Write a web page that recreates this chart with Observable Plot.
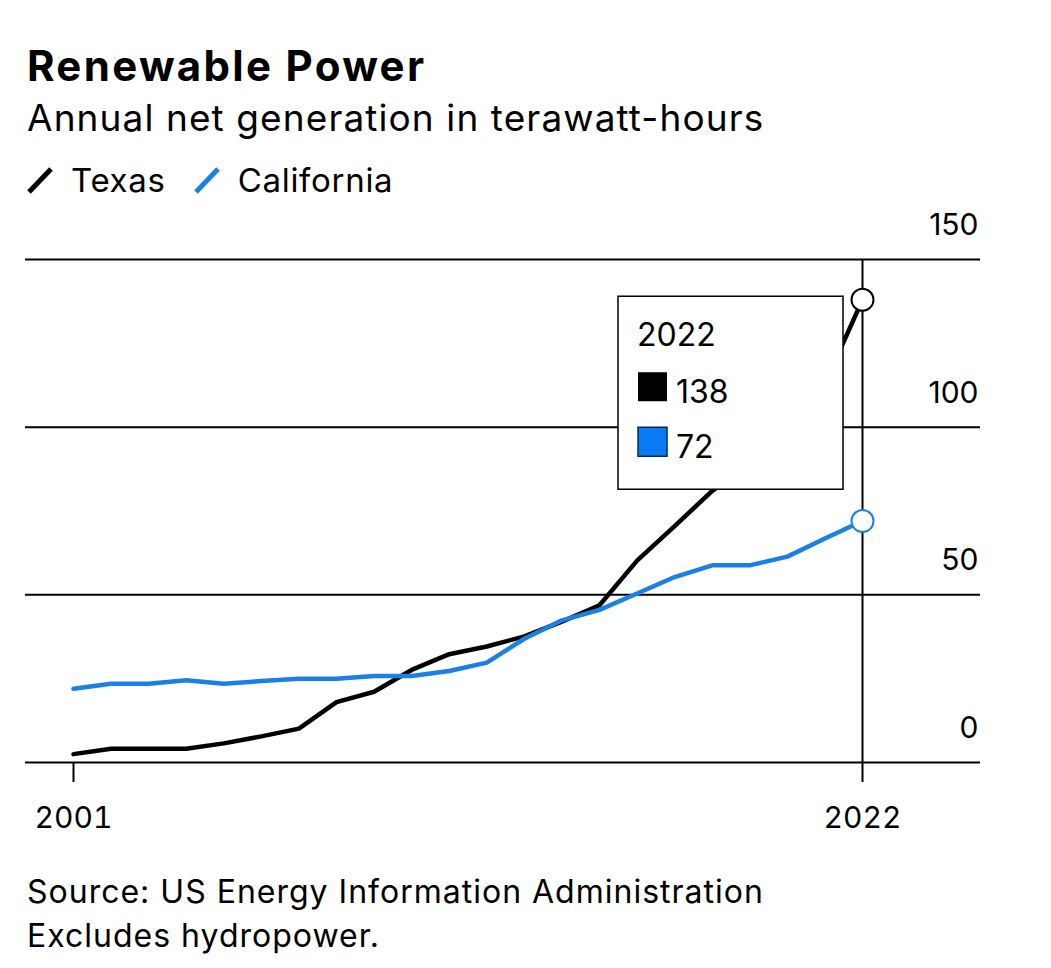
<!DOCTYPE html>
<html><head><meta charset="utf-8">
<script src="https://cdn.jsdelivr.net/npm/d3@7"></script>
<script src="https://cdn.jsdelivr.net/npm/@observablehq/plot@0.6"></script>
<style>
body{margin:0;background:#fff;font-family:Inter,"Liberation Sans",sans-serif;color:#000;}
#root{position:relative;width:1051px;height:968px;overflow:hidden;}
.t{position:absolute;left:27px;white-space:nowrap;line-height:1.2;}
.lg{display:inline-flex;align-items:center;margin-right:28px;}
.lg svg{margin-right:18px;}
</style></head><body>
<div id="root">
<div class="t" style="top:41px;font-size:42px;font-weight:700;letter-spacing:2.3px;">Renewable Power</div>
<div class="t" style="top:96px;font-size:37px;letter-spacing:1.1px;">Annual net generation in terawatt-hours</div>
<div class="t" id="legend" style="top:161px;font-size:33px;letter-spacing:0.7px;"></div>
<div id="chart" style="position:absolute;left:0;top:200px;"></div>
<div class="t" style="top:870px;font-size:32px;line-height:44px;letter-spacing:1px;">Source: US Energy Information Administration<br>Excludes hydropower.</div>
</div>
<script>
const years = [2001,2002,2003,2004,2005,2006,2007,2008,2009,2010,2011,2012,2013,2014,2015,2016,2017,2018,2019,2020,2021,2022];
const texas = [2.5,4.1,4.1,4.1,5.7,7.8,10.1,18.0,21.1,27.6,32.3,34.6,37.6,42.0,46.9,60.2,70.5,81,89,100,113,138];
const california = [22.0,23.5,23.5,24.5,23.5,24.3,25.0,25.0,25.8,25.8,27.3,29.8,36.9,42.4,45.5,50.4,55.3,58.8,58.8,61.4,66.8,72];
const seriesNames = ["Texas","California"];
const seriesColors = ["#000000","#1b80e6"];
const swatchColors = ["#000000","#0b7bf5"];
const yTicks = [0,50,100,150];
const xTicks = [2001,2022];
const tipYear = 2022;

const rows = [];
years.forEach((y,i)=>{ rows.push({year:y, value:texas[i], series:"Texas"}); });
years.forEach((y,i)=>{ rows.push({year:y, value:california[i], series:"California"}); });
const lastRows = rows.filter(d=>d.year===tipYear);

// legend
const lg = document.getElementById("legend");
seriesNames.forEach((n,i)=>{
  const s = document.createElement("span"); s.className="lg";
  s.innerHTML = `<svg width="26" height="27" viewBox="0 0 26 27"><line x1="2" y1="25" x2="24" y2="2" stroke="${seriesColors[i]}" stroke-width="5"/></svg>${n}`;
  lg.appendChild(s);
});

const font = "Inter, 'Liberation Sans', sans-serif";

function tooltip(index, scales) {
  const x0 = scales.x(tipYear);
  const y0 = scales.y(texas[years.indexOf(tipYear)]);
  const g = d3.create("svg:g").attr("font-family", font).attr("font-size", 32)
    .attr("text-anchor", "start").attr("fill", "#000");
  g.append("rect").attr("x", x0-244).attr("y", y0-3).attr("width",225).attr("height",193)
    .attr("fill","#fff").attr("stroke","#000").attr("stroke-width",1.5);
  g.append("text").attr("x", x0-225).attr("y", y0+47).text(String(tipYear));
  lastRows.forEach((d,i)=>{
    g.append("rect").attr("x", x0-224).attr("y", y0+73+55*i).attr("width",29).attr("height",29)
      .attr("fill", swatchColors[i]).attr("stroke", i===0?"none":"#0a2a55").attr("stroke-width",1.5);
    g.append("text").attr("x", x0-186).attr("y", y0+104+55*i).text(String(Math.round(d.value)));
  });
  return g.node();
}

const chart = Plot.plot({
  width: 1051,
  height: 650,
  marginLeft: 25,
  marginRight: 71,
  marginTop: 59,
  marginBottom: 88,
  style: {fontFamily: font, fontSize: "30px", background: "transparent", color: "#000"},
  x: {domain: [2001, 2022], range: [73, 862], axis: null},
  y: {domain: [0, 150], axis: null},
  color: {domain: seriesNames, range: seriesColors},
  marks: [
    Plot.ruleY(yTicks, {stroke: "#000", strokeWidth: 2}),
    Plot.ruleX([tipYear], {y1: 0, y2: 150, stroke: "#000", strokeWidth: 2}),
    Plot.axisX({ticks: xTicks, tickSize: 20, tickPadding: 24, tickFormat: d=>String(d), label: null, stroke: "#000", strokeWidth: 2, fontSize: 30, fill: "#000"}),
    Plot.text(yTicks, {y: d=>d, frameAnchor: "right", text: d=>String(d), textAnchor: "end", dx: -2, dy: -34, lineAnchor: "middle", fill: "#000"}),
    Plot.line(rows, {x: "year", y: "value", z: "series", stroke: "series", strokeWidth: 4.5, strokeLinejoin: "miter", curve: "linear"}),
    tooltip,
    Plot.dot(lastRows, {x: "year", y: "value", r: 11, fill: "#fff", stroke: "series", strokeWidth: 2})
  ]
});
document.getElementById("chart").appendChild(chart);
</script>
</body></html>
